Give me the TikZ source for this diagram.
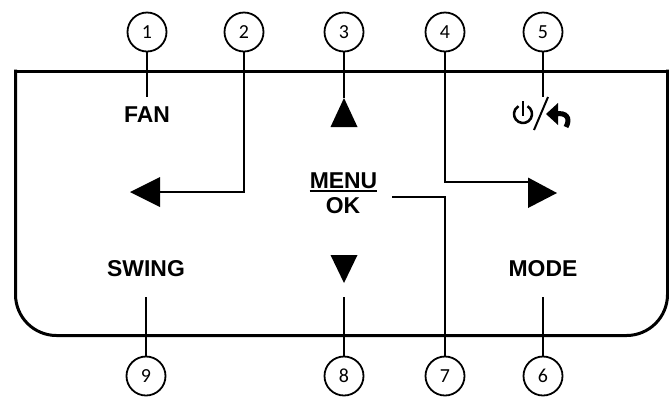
\documentclass[tikz,border=0pt]{standalone}
\usepackage{fontspec}
\setmainfont{Liberation Sans}
\newfontfamily\numfont{Carlito}
\usepackage{tikz}
\usetikzlibrary{calc}

\begin{document}
\begin{tikzpicture}[x=1bp, y=-1bp,
	num/.style={circle, draw=black, line width=1.8bp, minimum size=39bp, inner sep=0pt, font=\numfont\fontsize{20}{20}\selectfont},
	key/.style={font=\bfseries\fontsize{23}{23}\selectfont, text height=16.5bp, text depth=0pt, inner xsep=2bp, inner ysep=9bp},
	lead/.style={line width=2bp},
	panel/.style={line width=3bp, line cap=rect}]
	\useasboundingbox (0,0) rectangle (669,396);
	% panel
	\draw[panel] (15.5,71) -- (667.5,71);
	\draw[panel, rounded corners=41bp] (667.5,71) -- (667.5,335.5) -- (15.5,335.5) -- (15.5,71);
	% numbers
	\node[num] (c1) at (147,32) {1};
	\node[num] (c2) at (244,32) {2};
	\node[num] (c3) at (344,32) {3};
	\node[num] (c4) at (445,32) {4};
	\node[num] (c5) at (543,32) {5};
	\node[num] (c6) at (543,376) {6};
	\node[num] (c7) at (445,376) {7};
	\node[num] (c8) at (344,376) {8};
	\node[num] (c9) at (146,376) {9};
	% keys
	\node[key] (fan) at (147,114.5) {FAN};
	\node[key] (swing) at (146,268.7) {SWING};
	\node[key] (mode) at (543,268.7) {MODE};
	\node[key] (menu) at (343.5,180) {MENU};
	\node[key] (ok) at (343,205) {OK};
	\draw[line width=2bp] (menu.base west) ++(2,3) -- ++(67,0);
	\node[inner sep=0pt, minimum width=60bp, minimum height=34bp] (power) at (543,114) {};
	% arrows
	\fill (330.5,127) -- (357.5,127) -- (344,98) -- cycle;
	\fill (330.5,255) -- (357.5,255) -- (344,283) -- cycle;
	\fill (160,177) -- (160,207) -- (130,192) -- cycle;
	\fill (528,177.5) -- (528,208) -- (557,193) -- cycle;
	\coordinate (up) at (344,98);
	\coordinate (down) at (344,297);
	\coordinate (left) at (160,192);
	\coordinate (right) at (528,182);
	\coordinate (m7) at (392,197);
	% power / back
	\draw[line width=2.5bp] (523,114) ++(-60:9) arc[start angle=-60, end angle=240, radius=9];
	\draw[line width=2.5bp] (523,101) -- (523,116);
	\draw[line width=2bp] (534,130) -- (548,97);
	\fill (546,114) -- (558,103) -- (558,125) -- cycle;
	\draw[line width=5bp] (556,114) .. controls (566,112) and (571,118) .. (566,127);
	% leaders
	\draw[lead] (c1) -- (c1 |- fan.north);
	\draw[lead] (c2) |- (left);
	\draw[lead] (c3) -- (up);
	\draw[lead] (c4) |- (right);
	\draw[lead] (c5) -- (c5 |- power.north);
	\draw[lead, shorten >=11bp] (c6) -- (c6 |- mode.south);
	\draw[lead] (m7) -| (c7);
	\draw[lead] (c8) -- (down);
	\draw[lead, shorten >=11bp] (c9) -- (c9 |- swing.south);
\end{tikzpicture}
\end{document}
